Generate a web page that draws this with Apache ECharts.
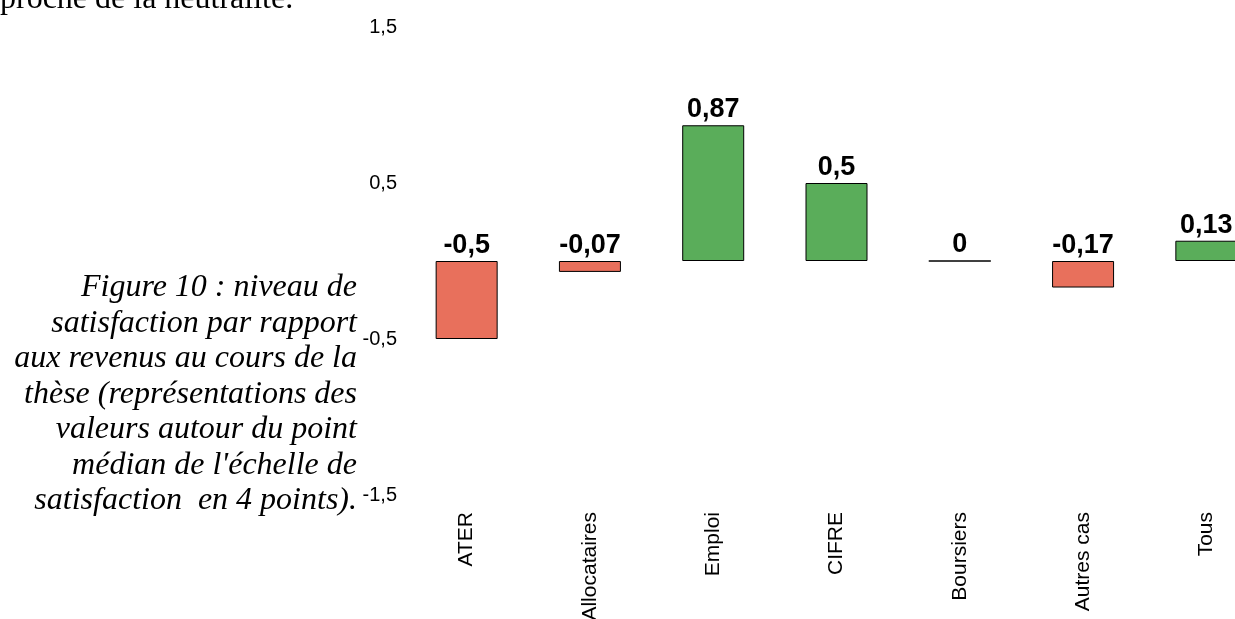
<!DOCTYPE html>
<html>
<head>
<meta charset="utf-8">
<script src="https://cdn.jsdelivr.net/npm/echarts@6/dist/echarts.min.js"></script>
<style>
  html, body { margin: 0; padding: 0; background: #fff; overflow: hidden; }
  /* la dernière barre déborde à droite de la fenêtre */
  #chart { width: 1268px; height: 619px; }
</style>
</head>
<body>
<div id="chart"></div>
<script>
// données
var categories = ['ATER', 'Allocataires', 'Emploi', 'CIFRE', 'Boursiers', 'Autres cas', 'Tous'];
var values = [-0.5, -0.07, 0.87, 0.5, 0, -0.17, 0.13];
var yTicks = [-1.5, -0.5, 0.5, 1.5];

var caption = [
    'Figure 10 : niveau de',
    'satisfaction par rapport',
    'aux revenus au cours de la',
    'thèse (représentations des',
    'valeurs autour du point',
    "médian de l'échelle de",
    'satisfaction  en 4 points).'
];

function virgule(v) {
    return String(v).replace('.', ',');
}

var chart = echarts.init(document.getElementById('chart'));

var option = {
    animation: false,
    grid: {
        left: 405,
        right: 0,
        top: 27,
        bottom: 124,
        outerBoundsMode: 'none',
        containLabel: false
    },
    xAxis: {
        type: 'category',
        data: categories,
        axisLine: { show: false },
        axisTick: { show: false },
        splitLine: { show: false },
        axisLabel: {
            rotate: 90,
            margin: 17,
            fontFamily: 'Liberation Sans',
            fontSize: 21,
            color: '#000'
        }
    },
    yAxis: {
        type: 'value',
        min: -1.5,
        max: 1.5,
        interval: 1,
        axisLine: { show: false },
        axisTick: { show: false },
        splitLine: { show: false },
        axisLabel: {
            margin: 8,
            fontFamily: 'Liberation Sans',
            fontSize: 20,
            color: '#000',
            formatter: function (v) {
                return yTicks.indexOf(v) >= 0 ? virgule(v) : '';
            }
        }
    },
    series: [{
        type: 'bar',
        barWidth: 62,
        data: values.map(function (v) {
            return {
                value: v,
                itemStyle: { color: v > 0 ? '#5AAD5A' : '#E8705C' }
            };
        }),
        itemStyle: {
            borderColor: '#000',
            borderWidth: 1
        },
        label: {
            show: true,
            position: 'top',
            distance: 2,
            fontFamily: 'Liberation Sans',
            fontWeight: 'bold',
            fontSize: 27,
            color: '#000',
            formatter: function (p) { return virgule(p.value); }
        }
    }],
    graphic: [{
        type: 'text',
        left: 0,
        top: -16,
        style: {
            text: 'proche de la neutralité.',
            font: '32px "Liberation Serif"',
            fill: '#000'
        }
    }, {
        type: 'text',
        x: 357,
        y: 270,
        style: {
            text: caption.join('\n'),
            font: 'italic 32px "Liberation Serif"',
            lineHeight: 35.5,
            align: 'right',
            fill: '#000'
        }
    }]
};

chart.setOption(option);
</script>
</body>
</html>
